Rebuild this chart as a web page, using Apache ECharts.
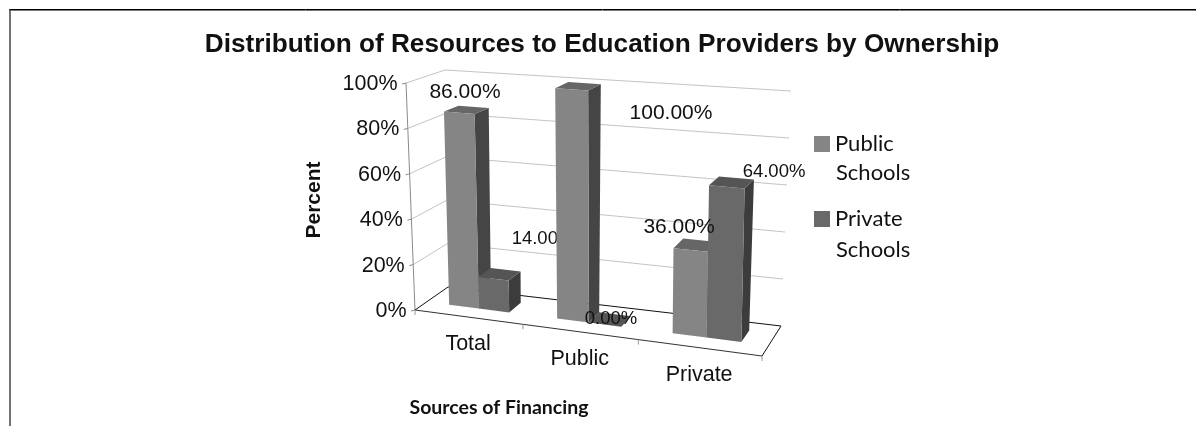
<!DOCTYPE html>
<html>
<head>
<meta charset="utf-8">
<style>html,body{margin:0;padding:0;background:#fff}#chart{width:1196px;height:426px}</style>
<script src="https://cdn.jsdelivr.net/npm/echarts@6/dist/echarts.min.js"></script>
</head>
<body>
<div id="chart"></div>
<script>
// Chart data
const categories = ['Total', 'Public', 'Private'];
const seriesNames = ['Public Schools', 'Private Schools'];
const publicSchools = [86, 100, 36];
const privateSchools = [14, 0, 64];
const yTicks = [0, 20, 40, 60, 80, 100];

// Box corners of the 3D plot on screen: F/B = front/back, B/T = floor/top, L/R = side
const box = {
  FBL: [415, 310], FBR: [762, 356], BBL: [448, 287], BBR: [781, 326],
  FTL: [406, 83],  FTR: [766, 111], BTL: [445, 70],  BTR: [791, 91]
};
const PERSPECTIVE_K = 1.107;  // foreshortening along the category direction
const BAR_T = 0.094;          // bar width, share of the plot width
const BAR_W = [0.35, 0.74];   // bar depth range, share of the floor depth

const ARIAL = '"Liberation Sans", Arial, sans-serif';
const CALIBRI = 'Lato, "Noto Sans", sans-serif';

const mix = (a, b, f) => [a[0] + (b[0] - a[0]) * f, a[1] + (b[1] - a[1]) * f];

// t: across the categories, v: height, w: depth (all 0..1)
function project(t, v, w) {
  const u = t / (t + (1 - t) * PERSPECTIVE_K);
  const floor = mix(mix(box.FBL, box.FBR, u), mix(box.BBL, box.BBR, u), w);
  const top = mix(mix(box.FTL, box.FTR, u), mix(box.BTL, box.BTR, u), w);
  return mix(floor, top, v);
}

// Normalised position of a data value inside the hidden cartesian grid
function toUnit(api, params, cat, val) {
  const c = api.coord([cat, val]);
  const g = params.coordSys;
  return [(c[0] - g.x) / g.width, (g.y + g.height - c[1]) / g.height];
}

const seg = (a, b, stroke, lineWidth) => ({
  type: 'line',
  shape: { x1: a[0], y1: a[1], x2: b[0], y2: b[1] },
  style: { stroke, lineWidth: lineWidth || 1 }
});
const poly = (points, fill) => ({ type: 'polygon', shape: { points }, style: { fill } });
const label = (text, x, y, size, align, family, weight) => ({
  type: 'text', x, y,
  style: {
    text, fill: '#111', fontSize: size, fontFamily: family || ARIAL,
    fontWeight: weight || 'normal', align: align || 'center', verticalAlign: 'middle'
  }
});

function barRenderer(seriesIndex, colors) {
  return function (params, api) {
    const cat = api.value(0);
    const [tc, v] = toUnit(api, params, cat, api.value(1));
    const t0 = tc + (seriesIndex - 1) * BAR_T;
    const t1 = t0 + BAR_T;
    const [w0, w1] = BAR_W;
    const a = project(t0, 0, w0), b = project(t1, 0, w0), c = project(t1, v, w0), d = project(t0, v, w0);
    const e = project(t1, 0, w1), f = project(t1, v, w1), g = project(t0, v, w1);
    return {
      type: 'group',
      children: [
        poly([b, e, f, c], colors.side),
        poly([d, c, f, g], colors.top),
        poly([a, b, c, d], colors.front)
      ]
    };
  };
}

// Walls, floor, axis ticks and axis text
function renderWalls(params, api) {
  const children = [];
  yTicks.forEach(tick => {
    const v = toUnit(api, params, 0, tick)[1];
    const fl = project(0, v, 0), bl = project(0, v, 1), br = project(1, v, 1);
    if (tick > 0) {
      children.push(seg(fl, bl, '#c4c4c4'), seg(bl, br, '#c4c4c4'));
    }
    children.push(seg([fl[0] - 4, fl[1] + 1], fl, '#8a8a8a'));
    children.push(label(tick + '%', fl[0] - 8.5, fl[1] + 1, 21.5, 'right'));
  });
  children.push(seg(project(0, 0, 0), project(0, 1, 0), '#8a8a8a'));
  const fbl = project(0, 0, 0), fbr = project(1, 0, 0), bbl = project(0, 0, 1), bbr = project(1, 0, 1);
  children.push(seg(fbl, bbl, '#111'), seg(bbl, bbr, '#111'), seg(bbr, fbr, '#111'), seg(fbl, fbr, '#333'));
  categories.forEach((name, i) => {
    const edge = project((i + 1) / categories.length, 0, 0);
    children.push(seg(edge, [edge[0], edge[1] + 5], '#999'));
    const mid = project(toUnit(api, params, i, 0)[0], 0, 0);
    children.push(label(name, mid[0], mid[1] + 27.5, 21.5));
  });
  const start = project(0, 0, 0);
  children.push(seg(start, [start[0], start[1] + 5], '#999'));
  return { type: 'group', children };
}

// Value labels: [category, series], placement and size
const valueLabels = [
  { cat: 0, s: 0, at: [465, 92], size: 21 },
  { cat: 1, s: 0, at: [671, 113], size: 21 },
  { cat: 2, s: 0, at: [679, 227], size: 21 },
  { cat: 1, s: 1, at: [611, 319], size: 18.5 },
  { cat: 2, s: 1, at: [774, 172], size: 18.5 }
];
const hiddenLabel = [{ cat: 0, s: 1, at: [543, 239], size: 18.5 }];
const seriesValues = [publicSchools, privateSchools];

function labelRenderer(list) {
  return function (params, api) {
    const item = list[params.dataIndex];
    return label(seriesValues[item.s][item.cat].toFixed(2) + '%', item.at[0], item.at[1], item.size);
  };
}

const legendSecondLine = name => ({
  type: 'text', x: 836, y: name.y,
  style: { text: name.text, fontFamily: CALIBRI, fontSize: 22, fill: '#111', align: 'left', verticalAlign: 'middle' }
});

const chart = echarts.init(document.getElementById('chart'));
chart.setOption({
  animation: false,
  backgroundColor: '#fff',
  title: {
    text: 'Distribution of Resources to Education Providers by Ownership',
    left: 597, top: 27, textAlign: 'center',
    textStyle: { fontFamily: ARIAL, fontWeight: 'bold', fontSize: 26.2, color: '#111' }
  },
  legend: {
    data: seriesNames, orient: 'vertical', left: 814, top: 133, padding: 0,
    icon: 'rect', itemWidth: 16, itemHeight: 16, itemGap: 53, selectedMode: false,
    formatter: name => name.split(' ')[0],
    textStyle: { fontFamily: CALIBRI, fontSize: 22, color: '#111' }
  },
  grid: { left: 100, right: 100, top: 50, bottom: 50 },
  xAxis: { type: 'category', data: categories, show: false },
  yAxis: { type: 'value', min: 0, max: 100, interval: 20, show: false },
  graphic: [
    { type: 'line', shape: { x1: 9, y1: 9.5, x2: 1196, y2: 9.5 }, style: { stroke: '#000', lineWidth: 1 } },
    { type: 'line', shape: { x1: 9, y1: 10.5, x2: 1196, y2: 10.5 }, style: { stroke: '#777', lineWidth: 1 } },
    { type: 'line', shape: { x1: 10, y1: 9, x2: 10, y2: 426 }, style: { stroke: '#444', lineWidth: 1.5 } },
    legendSecondLine({ text: 'Schools', y: 173 }),
    legendSecondLine({ text: 'Schools', y: 250 }),
    {
      type: 'text', x: 314, y: 200, rotation: Math.PI / 2,
      style: { text: 'Percent', fontFamily: ARIAL, fontWeight: 'bold', fontSize: 21, fill: '#111', align: 'center', verticalAlign: 'middle' }
    },
    {
      type: 'text', x: 499, y: 408,
      style: { text: 'Sources of Financing', fontFamily: CALIBRI, fontWeight: 'bold', fontSize: 19.5, fill: '#111', align: 'center', verticalAlign: 'middle' }
    }
  ],
  series: [
    { type: 'custom', name: 'walls', z: 1, silent: true, data: [[0, 0]], renderItem: renderWalls, clip: false },
    { type: 'custom', name: 'labels behind', z: 2, silent: true, data: hiddenLabel.map(l => [l.cat, 0]), renderItem: labelRenderer(hiddenLabel), clip: false },
    {
      type: 'custom', name: seriesNames[0], z: 3, silent: true, clip: false,
      itemStyle: { color: '#858585' },
      data: publicSchools.map((v, i) => [i, v]),
      renderItem: barRenderer(0, { front: '#858585', side: '#454545', top: '#666666' })
    },
    {
      type: 'custom', name: seriesNames[1], z: 3, silent: true, clip: false,
      itemStyle: { color: '#696969' },
      data: privateSchools.map((v, i) => [i, v]),
      renderItem: barRenderer(1, { front: '#696969', side: '#3c3c3c', top: '#555555' })
    },
    { type: 'custom', name: 'labels', z: 4, silent: true, data: valueLabels.map(l => [l.cat, 0]), renderItem: labelRenderer(valueLabels), clip: false }
  ]
});
</script>
</body>
</html>
